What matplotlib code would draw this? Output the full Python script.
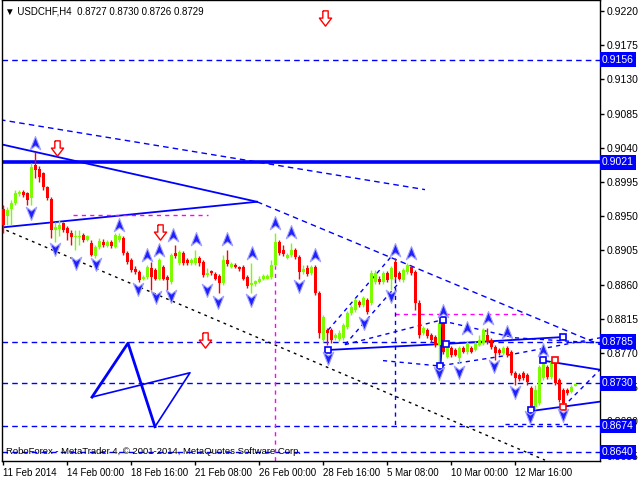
import matplotlib
matplotlib.use('Agg')
import matplotlib.pyplot as plt
import matplotlib.transforms as mtransforms
from matplotlib.path import Path
import numpy as np

plt.rcParams['font.family'] = ['Liberation Sans', 'DejaVu Sans']

# USDCHF H4 candles, price x 10000
opens = [8960, 8950, 8960, 8967, 8979, 8982, 8981, 8974, 9017, 9012, 9007, 8988,
         8973, 8932, 8933, 8941, 8934, 8928, 8923, 8923, 8925, 8919, 8915, 8898,
         8910, 8916, 8911, 8916, 8910, 8919, 8921, 8902, 8892, 8881, 8877, 8867,
         8870, 8882, 8879, 8868, 8883, 8870, 8863, 8902, 8888, 8902, 8892, 8888,
         8888, 8895, 8890, 8873, 8878, 8874, 8871, 8862, 8892, 8883, 8886, 8883,
         8883, 8870, 8859, 8861, 8863, 8867, 8868, 8870, 8886, 8916, 8906, 8895,
         8899, 8906, 8896, 8877, 8882, 8875, 8883, 8849, 8787, 8800, 8800, 8790,
         8788, 8790, 8804, 8822, 8827, 8837, 8833, 8840, 8836, 8863, 8868, 8863,
         8875, 8868, 8890, 8875, 8866, 8877, 8883, 8877, 8836, 8796, 8800, 8794,
         8791, 8780, 8813, 8765, 8777, 8774, 8763, 8777, 8771, 8777, 8774, 8780,
         8783, 8794, 8787, 8778, 8774, 8770, 8777, 8771, 8744, 8741, 8744, 8741,
         8724, 8699, 8704, 8737, 8752, 8738, 8758, 8734, 8721, 8721, 8719, 8727]
closes = [8938, 8958, 8967, 8981, 8982, 8978, 8971, 9015, 9011, 9002, 8988, 8974,
          8932, 8936, 8938, 8932, 8928, 8923, 8924, 8924, 8919, 8924, 8899, 8910,
          8917, 8912, 8916, 8911, 8925, 8924, 8902, 8890, 8879, 8877, 8866, 8870,
          8883, 8870, 8868, 8892, 8868, 8866, 8899, 8898, 8903, 8888, 8888, 8892,
          8895, 8888, 8873, 8875, 8875, 8868, 8862, 8892, 8887, 8887, 8883, 8881,
          8868, 8858, 8862, 8865, 8868, 8871, 8871, 8886, 8916, 8902, 8900, 8899,
          8906, 8896, 8877, 8881, 8874, 8883, 8849, 8796, 8817, 8796, 8787, 8794,
          8796, 8807, 8822, 8830, 8840, 8833, 8842, 8824, 8875, 8875, 8863, 8875,
          8866, 8882, 8870, 8868, 8879, 8886, 8875, 8836, 8794, 8803, 8792, 8787,
          8780, 8809, 8771, 8777, 8767, 8767, 8777, 8771, 8783, 8771, 8783, 8787,
          8800, 8784, 8778, 8770, 8770, 8777, 8767, 8744, 8737, 8736, 8737, 8732,
          8698, 8721, 8752, 8761, 8738, 8758, 8730, 8708, 8704, 8717, 8725, 8729]
highs = [8965, 8962, 8971, 8985, 8985, 8985, 8982, 9020, 9034, 9016, 9008, 8990,
         8975, 8942, 8945, 8942, 8937, 8932, 8932, 8932, 8928, 8925, 8919, 8912,
         8921, 8920, 8919, 8919, 8928, 8928, 8924, 8904, 8895, 8885, 8879, 8873,
         8886, 8890, 8882, 8895, 8886, 8873, 8902, 8912, 8906, 8904, 8895, 8895,
         8906, 8898, 8892, 8882, 8879, 8877, 8874, 8899, 8906, 8890, 8888, 8884,
         8886, 8873, 8888, 8866, 8871, 8874, 8874, 8892, 8928, 8919, 8912, 8902,
         8915, 8908, 8899, 8886, 8886, 8886, 8886, 8852, 8820, 8803, 8803, 8796,
         8800, 8810, 8825, 8833, 8842, 8840, 8845, 8842, 8879, 8879, 8871, 8878,
         8878, 8884, 8895, 8878, 8882, 8888, 8886, 8879, 8840, 8805, 8803, 8796,
         8794, 8813, 8816, 8779, 8779, 8777, 8779, 8779, 8786, 8779, 8786, 8794,
         8803, 8803, 8790, 8780, 8777, 8779, 8779, 8774, 8746, 8744, 8746, 8744,
         8727, 8728, 8754, 8761, 8754, 8761, 8761, 8737, 8724, 8724, 8728, 8730]
lows = [8928, 8938, 8938, 8965, 8977, 8975, 8965, 8965, 9000, 8995, 8985, 8971,
        8921, 8916, 8924, 8929, 8919, 8912, 8906, 8912, 8916, 8917, 8898, 8895,
        8907, 8910, 8910, 8908, 8908, 8916, 8899, 8887, 8877, 8874, 8863, 8866,
        8868, 8853, 8866, 8866, 8866, 8853, 8861, 8895, 8886, 8886, 8886, 8886,
        8886, 8884, 8870, 8870, 8873, 8866, 8849, 8859, 8884, 8882, 8882, 8878,
        8866, 8855, 8849, 8858, 8862, 8866, 8867, 8868, 8884, 8899, 8898, 8894,
        8896, 8894, 8868, 8874, 8871, 8873, 8846, 8790, 8784, 8781, 8783, 8787,
        8786, 8787, 8801, 8820, 8824, 8830, 8830, 8821, 8833, 8861, 8861, 8861,
        8863, 8853, 8867, 8866, 8863, 8874, 8873, 8827, 8790, 8794, 8790, 8784,
        8778, 8752, 8769, 8763, 8765, 8766, 8757, 8770, 8769, 8770, 8773, 8779,
        8780, 8782, 8775, 8761, 8767, 8767, 8765, 8741, 8728, 8733, 8734, 8728,
        8695, 8696, 8701, 8734, 8736, 8736, 8728, 8705, 8699, 8715, 8717, 8726]

price_ticks = [0.9220, 0.9175, 0.9130, 0.9085, 0.9040, 0.8995, 0.8950,
               0.8905, 0.8860, 0.8815, 0.8770, 0.8725, 0.8680, 0.8635]
date_ticks = [0, 16, 32, 48, 64, 80, 96, 112, 128]
date_labels = ['11 Feb 2014', '14 Feb 00:00', '18 Feb 16:00', '21 Feb 08:00',
               '26 Feb 00:00', '28 Feb 16:00', '5 Mar 08:00', '10 Mar 00:00',
               '12 Mar 16:00']
levels = [0.9156, 0.9021, 0.8785, 0.8730, 0.8674, 0.8640]

# analyst drawings: (bar, price) points
fractal_up = [(8, 0.9046), (29, 0.8939), (36, 0.8899), (39, 0.8906), (42.5, 0.8925),
              (48.25, 0.8920), (56, 0.8920), (62.25, 0.8902), (68, 0.8941), (72, 0.8929),
              (78, 0.8899), (98, 0.8906), (102, 0.8902), (110, 0.8825), (116, 0.8803),
              (121.25, 0.8816), (126, 0.8798), (135, 0.8774)]
fractal_dn = [(7, 0.8954), (13, 0.8907), (18.25, 0.8889), (23.25, 0.8887), (33.75, 0.8854),
              (38.25, 0.8844), (42, 0.8845), (51, 0.8853), (53.75, 0.8837), (62, 0.8840),
              (74, 0.8858), (81.25, 0.8763), (90.25, 0.8809), (97, 0.8845), (109, 0.8744),
              (114, 0.8745), (122.75, 0.8753), (128, 0.8719), (131.75, 0.8686), (140, 0.8689)]
sell_arrows = [(13.5, 0.9040), (39.25, 0.8929), (50.5, 0.8787), (80.5, 0.9211)]

o = np.array(opens) / 10000
c = np.array(closes) / 10000
h = np.array(highs) / 10000
l = np.array(lows) / 10000
x = np.arange(len(o))

fig = plt.figure(figsize=(6.4, 4.8), dpi=100)
ax = fig.add_axes([2 / 640, 19 / 480, 598 / 640, 461 / 480])
ax.set_xlim(-0.25, 149.25)
ax.set_ylim(0.86279, 0.92345)

blue = '#0000FF'
dash = (0, (4, 3))
dot = (0, (3, 3))

# horizontal levels
for lv in levels:
    if lv == 0.9021:
        ax.axhline(lv, color=blue, lw=2.6, zorder=2)
    else:
        ax.axhline(lv, color=blue, lw=1, ls=dash, zorder=2)

# trend lines
ax.plot([-0.75, 105.5], [0.9077, 0.8985], color=blue, lw=1, ls=dash)
ax.plot([-0.75, 63.5], [0.9045, 0.8969], color=blue, lw=1.3)
ax.plot([-0.75, 63.5], [0.8935, 0.8969], color=blue, lw=1.3)
ax.plot([63.5, 149.25], [0.8969, 0.8781], color=blue, lw=1, ls=dash)
ax.plot([-0.75, 135.5], [0.8935, 0.8629], color='black', lw=1, ls=(0, (2, 3)))
ax.plot([17.5, 51.25], [0.8952, 0.8952], color='#FF00FF', lw=1, ls=dot)
ax.plot([68, 68], [0.8886, 0.8628], color='#FF00FF', lw=1, ls=dot)
ax.plot([98, 130], [0.8821, 0.8821], color='#FF00FF', lw=1, ls=dot)
ax.plot([98, 98], [0.8890, 0.8674], color=blue, lw=1, ls=dot)
ax.plot([81.25, 97.25], [0.8800, 0.8898], color=blue, lw=1, ls=dot)
ax.plot([85.5, 99.25], [0.8781, 0.8864], color=blue, lw=1, ls=dot)
ax.plot([85.5, 109.25, 128, 149.25], [0.8781, 0.8813, 0.8790, 0.8783], color=blue, lw=1, ls=dot)
ax.plot([95, 109, 125, 149.25], [0.8760, 0.8753, 0.8766, 0.8790], color=blue, lw=1, ls=dot)
ax.plot([125.5, 141.25], [0.8677, 0.8677], color=blue, lw=1, ls=dot)
ax.plot([140, 149.25], [0.8699, 0.8748], color=blue, lw=1, ls=dot)
ax.plot([81.25, 110.5, 140], [0.8774, 0.8782, 0.8791], color=blue, lw=1.3)
ax.plot([109.25, 110], [0.8753, 0.8814], color=blue, lw=2)
ax.plot([132.5, 149.25], [0.8694, 0.8706], color=blue, lw=1.3)
ax.plot([135, 149.25], [0.8760, 0.8748], color=blue, lw=1.3)
# bow-tie
ax.plot([22.25, 31.25, 38], [0.8712, 0.8783, 0.8673], color=blue, lw=2)
ax.plot([38, 46.75, 22.25], [0.8673, 0.8744, 0.8712], color=blue, lw=1.2)

# candles
up = c >= o
col = np.where(up, '#7CFC00', '#FF0000')
ax.vlines(x, l, h, colors=col, lw=1, zorder=3)
body = np.maximum(np.abs(c - o), 0.00008)
ax.bar(x, body, bottom=np.minimum(o, c), width=0.75, color=col, lw=0, zorder=3)

# wave boxes
for bx, by, ec in [(81.25, 0.8774, blue), (109.25, 0.8753, blue), (110, 0.8813, blue),
                   (110.75, 0.8782, blue), (140, 0.8791, blue), (132, 0.8695, blue),
                   (135, 0.8761, blue), (138, 0.8761, 'red'), (140, 0.8699, 'red')]:
    ax.plot(bx, by, marker='s', ms=5, mfc='white', mec=ec, mew=1.2, zorder=4)

# fractal markers
up_path = Path([(0, 1), (0.75, -0.9), (0, -0.35), (-0.75, -0.9), (0, 1)],
               [Path.MOVETO, Path.LINETO, Path.LINETO, Path.LINETO, Path.CLOSEPOLY])
dn_path = Path([(0, -1), (0.75, 0.9), (0, 0.35), (-0.75, 0.9), (0, -1)],
               [Path.MOVETO, Path.LINETO, Path.LINETO, Path.LINETO, Path.CLOSEPOLY])
sell_path = Path([(-0.35, 1), (0.35, 1), (0.35, 0.05), (0.8, 0.05), (0, -1),
                  (-0.8, 0.05), (-0.35, 0.05), (-0.35, 1)])
ax.plot([p[0] for p in fractal_up], [p[1] for p in fractal_up], ls='none', marker=up_path,
        ms=10, mfc='#2020FF', mec='#A0A0FF', mew=0.8, zorder=5)
ax.plot([p[0] for p in fractal_dn], [p[1] for p in fractal_dn], ls='none', marker=dn_path,
        ms=10, mfc='#2020FF', mec='#A0A0FF', mew=0.8, zorder=5)
ax.plot([p[0] for p in sell_arrows], [p[1] for p in sell_arrows], ls='none', marker=sell_path,
        ms=11, mfc='white', mec='red', mew=1, zorder=5)

# axes
for s in ax.spines.values():
    s.set_color('black')
    s.set_linewidth(1)
ax.yaxis.tick_right()
ax.set_yticks(price_ticks)
ax.set_yticklabels([f'{p:.4f}' for p in price_ticks])
ax.set_xticks(date_ticks)
ax.set_xticklabels(date_labels, ha='left')
ax.tick_params(axis='both', labelsize=7, length=3, width=1, color='black', pad=2)
ax.tick_params(axis='y', labelsize=7.5)

trans = mtransforms.blended_transform_factory(ax.transAxes, ax.transData)
for lv in levels:
    ax.text(1.003, lv, f'{lv:.4f}', transform=trans, va='center', ha='left', color='white',
            fontsize=7.5, zorder=10, clip_on=False,
            bbox=dict(boxstyle='square,pad=0.22', fc=blue, ec='none'))

fig.text(5 / 640, 1 - 12 / 480, '\u25bc USDCHF,H4  0.8727 0.8730 0.8726 0.8729',
         fontsize=7, va='center', ha='left')
ax.text(0.006, 0.8640, 'RoboForex - MetaTrader 4, \u00a9 2001-2014, MetaQuotes Software Corp.',
        transform=trans, fontsize=6.8, va='center', ha='left', zorder=6)

fig.savefig('out.png', dpi=100)
